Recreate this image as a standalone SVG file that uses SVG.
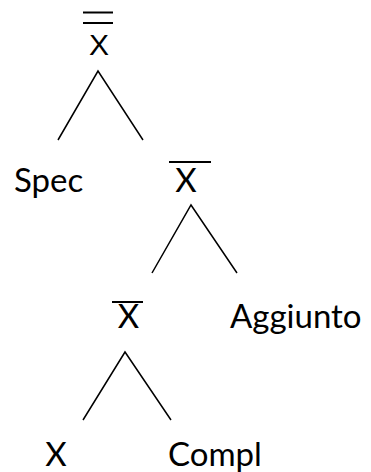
<svg xmlns="http://www.w3.org/2000/svg" width="371" height="472" viewBox="0 0 371 472">
<style>
.t{font-family:Lato,"Open Sans","Liberation Sans",sans-serif;font-size:33px;fill:#000}
.a{font-family:"Liberation Sans",Arial,sans-serif;font-size:30px;fill:#000}
.bar{stroke:#000;stroke-width:2;fill:none}
.e{stroke:#000;stroke-width:1.5;fill:none}
</style>
<rect width="371" height="472" fill="#fff"/>
<g id="xbarbar">
<line class="bar" x1="83" y1="12.5" x2="113" y2="12.5"/>
<line class="bar" x1="83" y1="23" x2="113" y2="23"/>
<text class="a" x="99" y="55" text-anchor="middle">X</text>
</g>
<g id="spec"><text class="t" x="14" y="192">Spec</text></g>
<g id="xbar1">
<line class="bar" x1="169" y1="162" x2="211" y2="162"/>
<text class="t" x="186" y="192" text-anchor="middle">X</text>
</g>
<g id="xbar2">
<line class="bar" x1="112" y1="302" x2="143" y2="302"/>
<text class="t" x="128.5" y="328" text-anchor="middle">X</text>
</g>
<g id="aggiunto"><text class="t" x="230" y="328">Aggiunto</text></g>
<g id="x"><text class="t" x="56" y="466" text-anchor="middle">X</text></g>
<g id="compl"><text class="t" x="168" y="466">Compl</text></g>
<g id="connectors">
<polyline class="e" points="58,140 98,71 143,140"/>
<polyline class="e" points="152,273 191,205 237,273"/>
<polyline class="e" points="83,420 125,352 171,420"/>
</g>
</svg>
